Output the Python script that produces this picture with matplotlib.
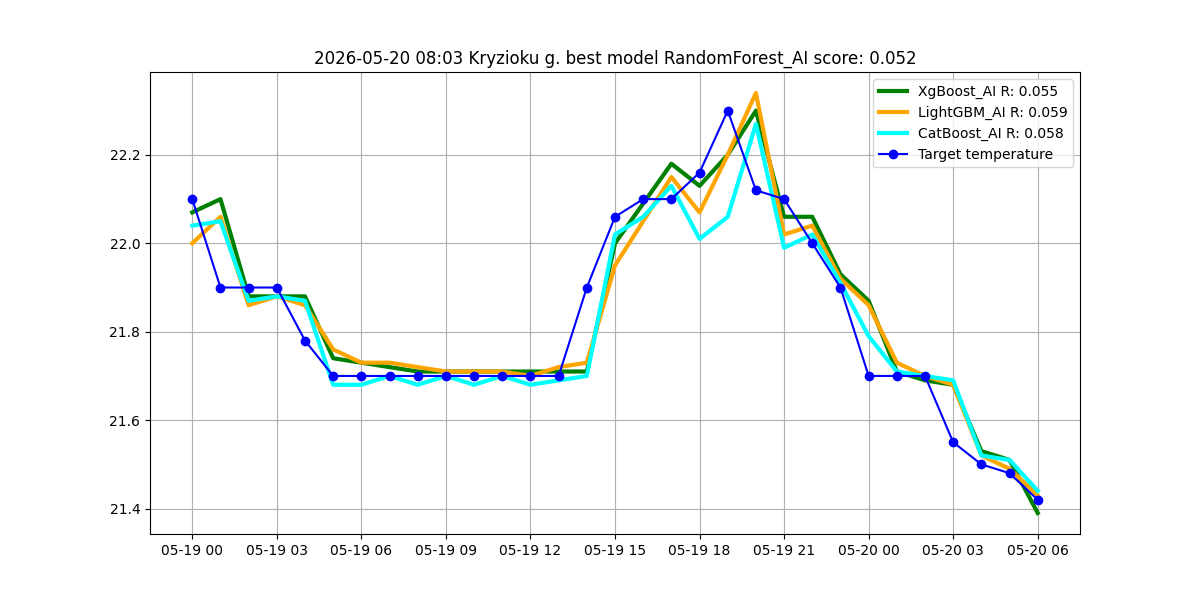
import matplotlib
matplotlib.use('Agg')
import matplotlib.pyplot as plt
import matplotlib.dates as mdates
import pandas as pd

times = pd.date_range('2026-05-19 00:00', periods=31, freq='h')

target = [22.10, 21.90, 21.90, 21.90, 21.78, 21.70, 21.70, 21.70, 21.70, 21.70,
          21.70, 21.70, 21.70, 21.70, 21.90, 22.06, 22.10, 22.10, 22.16, 22.30,
          22.12, 22.10, 22.00, 21.90, 21.70, 21.70, 21.70, 21.55, 21.50, 21.48, 21.42]
xgb = [22.07, 22.10, 21.88, 21.88, 21.88, 21.74, 21.73, 21.72, 21.71, 21.71,
       21.71, 21.71, 21.71, 21.71, 21.71, 22.00, 22.09, 22.18, 22.13, 22.20,
       22.30, 22.06, 22.06, 21.93, 21.87, 21.71, 21.69, 21.68, 21.53, 21.51, 21.39]
lgbm = [22.00, 22.06, 21.86, 21.88, 21.86, 21.76, 21.73, 21.73, 21.72, 21.71,
        21.71, 21.71, 21.70, 21.72, 21.73, 21.95, 22.05, 22.15, 22.07, 22.20,
        22.34, 22.02, 22.04, 21.92, 21.86, 21.73, 21.70, 21.68, 21.52, 21.49, 21.43]
cat = [22.04, 22.05, 21.87, 21.88, 21.87, 21.68, 21.68, 21.70, 21.68, 21.70,
       21.68, 21.70, 21.68, 21.69, 21.70, 22.02, 22.06, 22.13, 22.01, 22.06,
       22.27, 21.99, 22.02, 21.91, 21.79, 21.71, 21.70, 21.69, 21.52, 21.51, 21.44]

fig, ax = plt.subplots(figsize=(12, 6), dpi=100)
ax.plot(times, xgb, color='green', linewidth=3, label='XgBoost_AI R: 0.055')
ax.plot(times, lgbm, color='orange', linewidth=3, label='LightGBM_AI R: 0.059')
ax.plot(times, cat, color='cyan', linewidth=3, label='CatBoost_AI R: 0.058')
ax.plot(times, target, color='blue', marker='o', label='Target temperature')

ax.xaxis.set_major_locator(mdates.HourLocator(byhour=range(0, 24, 3)))
ax.xaxis.set_major_formatter(mdates.DateFormatter('%m-%d %H'))
ax.grid(True)
ax.legend(loc='upper right')
ax.set_title('2026-05-20 08:03 Kryzioku g. best model RandomForest_AI score: 0.052')

plt.savefig('out.png')
